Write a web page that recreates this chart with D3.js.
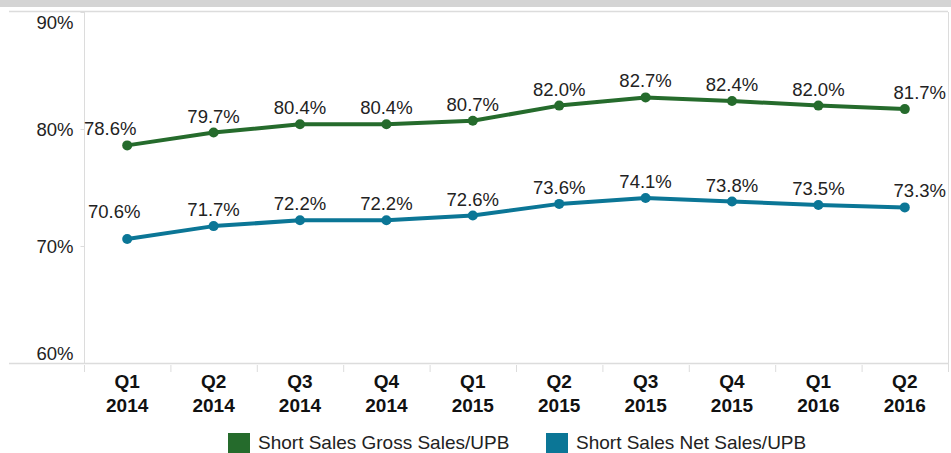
<!DOCTYPE html>
<html>
<head>
<meta charset="utf-8">
<script src="https://cdn.jsdelivr.net/npm/d3@7"></script>
<style>
  body { margin: 0; background: #fff; }
  svg { display: block; font-family: Arial, "Liberation Sans", sans-serif; }
</style>
</head>
<body>
<div id="chart"></div>
<script>
var quarters = ['Q1', 'Q2', 'Q3', 'Q4', 'Q1', 'Q2', 'Q3', 'Q4', 'Q1', 'Q2'];
var years = ['2014', '2014', '2014', '2014', '2015', '2015', '2015', '2015', '2016', '2016'];
var gross = [78.6, 79.7, 80.4, 80.4, 80.7, 82.0, 82.7, 82.4, 82.0, 81.7];
var net = [70.6, 71.7, 72.2, 72.2, 72.6, 73.6, 74.1, 73.8, 73.5, 73.3];
var yTicks = [60, 70, 80, 90];
var seriesNames = ['Short Sales Gross Sales/UPB', 'Short Sales Net Sales/UPB'];
var colors = ['#256b2c', '#0b7696'];

var chart_width = 951, chart_height = 453;
var plotLeft = 84, plotRight = 948, plotTop = 12, plotBottom = 363;

var svg = d3.select('#chart').append('svg')
	.attr('width', chart_width)
	.attr('height', chart_height);

// grey strip at the very top
svg.append('rect')
	.attr('x', 0).attr('y', 0)
	.attr('width', chart_width).attr('height', 7)
	.attr('fill', '#d4d4d4');

var keys = d3.range(quarters.length);

var x = d3.scaleBand()
	.domain(keys)
	.range([plotLeft, plotRight]);

var y = d3.scaleLinear()
	.domain([60, 90])
	.range([plotBottom, plotTop]);

// frame lines
svg.append('line')
	.attr('x1', 9).attr('x2', plotRight)
	.attr('y1', plotTop - 0.5).attr('y2', plotTop - 0.5)
	.attr('stroke', '#dcdcdc').attr('stroke-width', 1.5);
svg.append('line')
	.attr('x1', plotRight + 0.5).attr('x2', plotRight + 0.5)
	.attr('y1', plotTop).attr('y2', plotBottom + 9)
	.attr('stroke', '#dcdcdc');

// y axis
var y_axis = d3.axisLeft(y)
	.tickValues(yTicks)
	.tickSize(4)
	.tickFormat(function(d) { return d + '%'; });

var gy = svg.append('g')
	.attr('class', 'y-axis')
	.attr('transform', 'translate(' + (plotLeft + 0.5) + ',0)')
	.call(y_axis);
gy.select('.domain').attr('stroke', '#dcdcdc').attr('d', 'M0,' + plotTop + 'V' + plotBottom);
gy.selectAll('.tick line').attr('stroke', '#dcdcdc');
gy.selectAll('.tick text')
	.attr('x', -11)
	.attr('fill', '#222')
	.style('font-size', '18.5px')
	.attr('dy', function(d) {
		if (d === 90) return '0.9em';
		if (d === 60) return '-0.2em';
		return '0.35em';
	});

// bottom line
svg.append('line')
	.attr('x1', 9).attr('x2', plotRight)
	.attr('y1', plotBottom + 0.5).attr('y2', plotBottom + 0.5)
	.attr('stroke', '#dcdcdc').attr('stroke-width', 1.5);

// x ticks at band edges
svg.append('g')
	.selectAll('line')
	.data(d3.range(quarters.length + 1))
	.enter()
	.append('line')
	.attr('x1', function(i) { return plotLeft + i * x.step() + 0.5; })
	.attr('x2', function(i) { return plotLeft + i * x.step() + 0.5; })
	.attr('y1', plotBottom + 2).attr('y2', plotBottom + 9)
	.attr('stroke', '#dcdcdc');

// x labels
var xl = svg.append('g')
	.selectAll('text')
	.data(keys)
	.enter()
	.append('text')
	.attr('text-anchor', 'middle')
	.attr('fill', '#111')
	.style('font-size', '19px')
	.style('font-weight', 'bold');
xl.append('tspan')
	.attr('x', function(i) { return x(i) + x.bandwidth() / 2; })
	.attr('y', 388)
	.text(function(i) { return quarters[i]; });
xl.append('tspan')
	.attr('x', function(i) { return x(i) + x.bandwidth() / 2; })
	.attr('y', 412)
	.text(function(i) { return years[i]; });

var series = [gross, net];
var cx = function(i) { return x(i) + x.bandwidth() / 2; };

series.forEach(function(vals, s) {
	var line = d3.line()
		.x(function(d, i) { return cx(i); })
		.y(function(d) { return y(d); });

	svg.append('path')
		.datum(vals)
		.attr('d', line)
		.attr('fill', 'none')
		.attr('stroke', colors[s])
		.attr('stroke-width', 4)
		.attr('stroke-linejoin', 'round');

	svg.append('g')
		.selectAll('circle')
		.data(vals)
		.enter()
		.append('circle')
		.attr('cx', function(d, i) { return cx(i); })
		.attr('cy', function(d) { return y(d); })
		.attr('r', 5)
		.attr('fill', colors[s]);

	svg.append('g')
		.selectAll('text')
		.data(vals)
		.enter()
		.append('text')
		.attr('text-anchor', 'middle')
		.attr('fill', '#222')
		.style('font-size', '18.5px')
		.attr('x', function(d, i) {
			if (i === 0) return cx(i) - (s === 0 ? 17 : 13);
			if (i === vals.length - 1) return cx(i) + 15;
			return cx(i);
		})
		.attr('y', function(d, i) {
			if (i === 0 && s === 1) return y(d) - 21;
			return y(d) - 10;
		})
		.text(function(d) { return d.toFixed(1) + '%'; });
});

// legend
var legend = svg.append('g');
var legendX = [228, 546];
seriesNames.forEach(function(name, s) {
	legend.append('rect')
		.attr('x', legendX[s]).attr('y', 433)
		.attr('width', 22).attr('height', 20)
		.attr('fill', colors[s]);
	legend.append('text')
		.attr('x', legendX[s] + 30).attr('y', 449)
		.attr('fill', '#222')
		.style('font-size', '19px')
		.text(name);
});
</script>
</body>
</html>
